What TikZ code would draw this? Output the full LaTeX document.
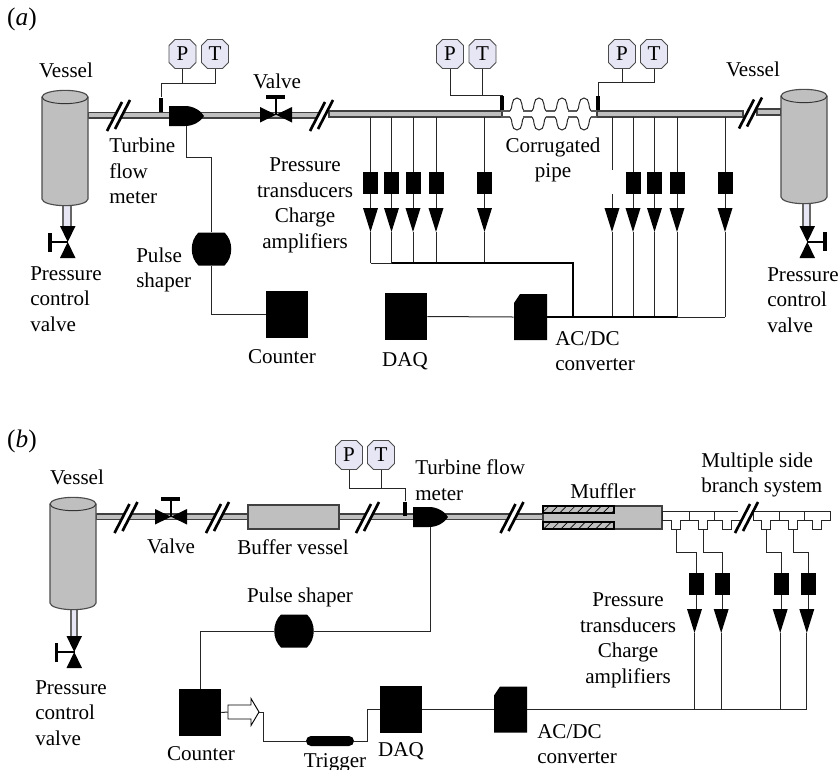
\documentclass[tikz,border=0pt]{standalone}
\usepackage{fontspec}
\setmainfont{Liberation Serif}
\usetikzlibrary{shapes.misc,patterns.meta}
\definecolor{pipegray}{HTML}{BFBFBF}
\definecolor{gaugefill}{HTML}{E6E6F5}
\tikzset{>=latex}
\tikzset{
  lbl/.style={inner sep=0,font=\fontsize{15.8}{19.2}\selectfont},
  panel/.style={inner sep=0,font=\fontsize{19}{22}\selectfont},
  wire/.style={line width=.75pt,black!85},
  bus/.style={line width=1.2pt,black},
  pipe/.style={draw=black!75,fill=pipegray,line width=.85pt},
  nipple/.style={draw=black!60,fill=gaugefill,line width=.85pt},
  sensor/.style={fill=black,inner sep=0,minimum width=2.4pt,minimum height=10.5pt},
  unitbox/.style={fill=black,inner sep=0,minimum width=31.5pt,minimum height=35.25pt},
  ampbox/.style={fill=black,inner sep=0,minimum width=11.25pt,minimum height=16.5pt},
  triggerbox/.style={rounded rectangle,fill=black,inner sep=0,minimum width=36pt,minimum height=7.5pt},
}
\tikzset{
  vessel/.pic={
    \draw[pipe,draw=black!70] (-23,0) -- (-23,#1)
      arc[start angle=180,end angle=360,x radius=17.25pt,y radius=5pt]
      -- (23,0) arc[start angle=0,end angle=180,x radius=17.25pt,y radius=5pt] -- cycle;
    \draw[line width=.7pt,black!80] (-23,0)
      arc[start angle=180,end angle=360,x radius=17.25pt,y radius=5pt];
  },
  valve/.pic={
    \fill (-16,-8) -- (16,7.5) -- (16,-8) -- (-16,7.5) -- cycle;
    \draw[line width=2.2pt] (0,0) -- (0,-18);
    \draw[line width=2.6pt] (-10,-18) -- (9,-18);
  },
  pipebreak/.pic={
    \fill[white] (-11.5,16) -- (3.5,-13) -- (11.5,-15) -- (-3.5,14) -- cycle;
    \draw[line width=2pt] (-11.5,16) -- (3.5,-13);
    \draw[line width=2pt] (-3.5,14) -- (11.5,-15);
  },
  gauge/.pic={
    \draw[draw=black!70,fill=gaugefill,line width=.7pt]
      (-7.5,-14.5) -- (7.5,-14.5) -- (13.5,-8.5) -- (13.5,8.5) -- (7.5,14.5)
      -- (-7.5,14.5) -- (-13.5,8.5) -- (-13.5,-8.5) -- cycle;
    \node[lbl,minimum width=20pt,minimum height=21.75pt] (-body) at (0,0) {#1};
  },
  turbine/.pic={
    \node[inner sep=0,minimum width=26pt,minimum height=15pt] (-body) at (17,0) {};
    \fill (0,-10) -- (16,-10) .. controls (25,-10) and (32,-5) .. (35,0)
      .. controls (32,5) and (25,10) .. (16,10) -- (0,10) -- cycle;
    \coordinate (-out) at (17,10);
  },
  shaper/.pic={
    \node[inner sep=0,minimum width=29pt,minimum height=24.75pt] (-body) at (0,0) {};
    \fill (-13,-16.5) -- (13,-16.5) .. controls (22,-8) and (22,8) .. (13,16.5)
      -- (-13,16.5) .. controls (-22,8) and (-22,-8) .. cycle;
  },
  adc/.pic={
    \node[inner sep=0,minimum width=24.75pt,minimum height=34.5pt] (-body) at (0,0) {};
    \fill (-16.5,-14) -- (-10.5,-23) -- (16.5,-23) -- (16.5,23) -- (-16.5,23) -- cycle;
  },
  hollowarrow/.pic={
    \node[inner sep=0,minimum width=23.25pt,minimum height=20pt] (-body) at (0,0) {};
    \draw[black,fill=white,line width=.7pt] (-15.5,-7) -- (7.5,-7) -- (7.5,-13.5)
      -- (15.5,0) -- (7.5,13.5) -- (7.5,7) -- (-15.5,7) -- cycle;
  },
  bellow/.pic={
    \draw[black!65,line width=1.1pt] (-16,-3) -- (-7,-3);
    \draw[black!65,line width=1.1pt] (-16,3) -- (-7,3);
    \draw[wire] (-7,-3) .. controls (-4,-5) and (-6.5,-16) .. (0,-16)
      .. controls (6.5,-16) and (4,-5) .. (7,-3);
    \draw[wire] (-7,3) .. controls (-4,5) and (-6.5,16) .. (0,16)
      .. controls (6.5,16) and (4,5) .. (7,3);
  },
  transducer/.pic={
    \node[ampbox] (-box) at (0,11) {};
    \draw[wire] (-box) -- (0,36);
    \fill (-7.5+#1,36) -- (7.5+#1,36) -- (#1,60) -- cycle;
    \coordinate (-tip) at (#1,60);
  },
  chargeamp/.pic={
    \draw[wire] (0,22) -- (0,36);
    \fill (-7.5,36) -- (7.5,36) -- (0,60) -- cycle;
    \coordinate (-tip) at (0,60);
  },
}
\begin{document}
\begin{tikzpicture}[x=.75pt,y=-.75pt]
  \useasboundingbox (0,0) rectangle (839,769);
  \clip (0,0) rectangle (839,769);
  % panel a
  \node[panel] (labela) at (22,19) {(\textit{a})};
  \draw[pipe] (88,112.5) rectangle (319,118);
  \draw[pipe] (329,111) rectangle (502,117);
  \draw[pipe] (597,111) rectangle (743,117);
  \draw[pipe] (757,109) rectangle (781,115);
  \draw[nipple] (63,203) rectangle (71,228);
  \draw[nipple] (803,203) rectangle (810,228);
  \pic at (65,97) {vessel=102};
  \pic at (804,96) {vessel=101};
  \pic[rotate=90] at (68,242) {valve};
  \pic[rotate=-90] at (807,242) {valve};
  \pic at (276,115) {valve};
  \pic at (118.5,115) {pipebreak};
  \pic at (321.5,115) {pipebreak};
  \pic at (750.5,112.5) {pipebreak};
  \pic (turba) at (169,116) {turbine};
  \pic at (517,114) {bellow};
  \pic at (539,114) {bellow};
  \pic at (562,114) {bellow};
  \pic at (584,114) {bellow};
  \draw[black!65,line width=1.1pt] (591,111) -- (597,111) (591,117) -- (597,117);

  \pic (pa) at (182.5,54) {gauge=P};
  \pic (ta) at (215,54) {gauge=T};
  \pic (pb) at (450,54) {gauge=P};
  \pic (tb) at (482.5,54) {gauge=T};
  \pic (pc) at (622,54) {gauge=P};
  \pic (tc) at (654,54) {gauge=T};
  \node[sensor] (sa) at (161,104.5) {};
  \node[sensor] (sb) at (502,103) {};
  \node[sensor] (sc) at (598,103) {};
  \coordinate (ja) at (161,83);
  \coordinate (jb) at (502,95);
  \coordinate (jc) at (598,82);
  \draw[wire] (sa.north) -- (ja) -| (ta-body.south);
  \draw[wire] (pa-body.south) -- (pa-body.south |- ja);
  \draw[wire] (sb.north) -- (jb) -| (pb-body.south);
  \draw[wire] (tb-body.south) -- (tb-body.south |- jb);
  \draw[wire] (sc.north) -- (jc) -| (tc-body.south);
  \draw[wire] (pc-body.south) -- (pc-body.south |- jc);

  \pic (la) at (370.5,172) {transducer=0};
  \pic (lb) at (391.5,172) {transducer=0};
  \pic (lc) at (413,172) {transducer=0};
  \pic (ld) at (436,172) {transducer=0};
  \pic (le) at (484.5,172) {transducer=0};
  \pic (ra) at (612,172) {chargeamp};
  \pic (rb) at (633,172) {transducer=0};
  \pic (rc) at (654.5,172) {transducer=0};
  \pic (rd) at (677,172) {transducer=0};
  \pic (re) at (725,172) {transducer=0};
  \coordinate (pipea) at (370,117);
  \coordinate (busa) at (573,263);
  \coordinate (busb) at (573,317);
  \coordinate (stub) at (612,170);
  \foreach \n in {la,lb,lc,ld,le,rb,rc,rd,re}
    \draw[wire] (\n-box.north) -- (\n-box.north |- pipea);
  \draw[wire] (stub) -- (stub |- pipea);
  \foreach \n in {la,lb,lc,ld,le}
    \draw[wire] (\n-tip) -- (\n-tip |- busa);
  \foreach \n in {ra,rb,rc,rd,re}
    \draw[wire] (\n-tip) -- (\n-tip |- busb);
  \draw[wire] (la-tip |- busa) -- (lb-tip |- busa);
  \draw[bus] (lb-tip |- busa) -- (busa) -- (busb);

  \pic (shapea) at (211.5,249) {shaper};
  \node[unitbox] (counta) at (287,314.5) {};
  \node[unitbox] (daqa) at (406,316.5) {};
  \pic (adca) at (530.5,317) {adc};
  \coordinate (ka) at (211.5,157);
  \draw[wire] (turba-out) |- (ka) -- (shapea-body.north);
  \draw[wire] (shapea-body.south) |- (counta.west);
  \draw[wire] (daqa.east) -- (adca-body.west);
  \draw[bus] (adca-body.east) -- (rd-tip |- busb);
  \draw[wire] (rd-tip |- busb) -- (re-tip |- busb);

  \node[lbl] (vesa) at (66,70) {Vessel};
  \node[lbl] (vesb) at (753,69) {Vessel};
  \node[lbl] (vala) at (277,81) {Valve};
  \node[lbl,align=left,anchor=west] (turbla) at (109,171) {Turbine\\flow\\meter};
  \node[lbl,align=center] (ptla) at (305,205.5) {Pressure\\transducers\\Charge\\amplifiers};
  \node[lbl,align=center] (corrl) at (553,160) {Corrugated\\pipe};
  \node[lbl,align=left,anchor=west] (pcla) at (30,299) {Pressure\\control\\valve};
  \node[lbl,align=left,anchor=west] (pclb) at (767,300) {Pressure\\control\\valve};
  \node[lbl,align=left,anchor=west] (shla) at (136,270) {Pulse\\shaper};
  \node[lbl] (countl) at (282,357) {Counter};
  \node[lbl] (daql) at (405,361) {DAQ};
  \node[lbl,align=left,anchor=west] (adcl) at (555,351) {AC/DC\\converter};

  % panel b
  \node[panel] (labelb) at (22,441) {(\textit{b})};
  \draw[pipe] (96,514) rectangle (543,519.5);
  \draw[nipple] (71,608) rectangle (77,637);
  \pic at (73,504) {vessel=99};
  \pic[rotate=90] at (74.5,652) {valve};
  \pic at (171,517) {valve};
  \pic at (126,517) {pipebreak};
  \pic at (217.5,517) {pipebreak};
  \pic at (367.5,517) {pipebreak};
  \pic at (512,517) {pipebreak};
  \draw[pipe] (248,505) rectangle (339,529);
  \pic (turbb) at (413,517) {turbine};
  \draw[pipe] (543,506) rectangle (662,529);
  \draw[pipe,draw=black] (543,506) rectangle (614,513);
  \draw[pipe,draw=black] (543,522) rectangle (614,529);
  \path[pattern={Lines[angle=45,distance=4.6pt,line width=.5pt]}] (543,506) rectangle (614,513);
  \path[pattern={Lines[angle=45,distance=4.6pt,line width=.5pt]}] (543,522) rectangle (614,529);
  \draw[wire] (662,511.3) -- (738,511.3) (753.3,511.3) -- (830.7,511.3)
    (662.3,511.3) |- (671.7,520) |- (680.7,529.3) |- (689.3,520) -- (689.3,511.3)
    (689.3,520) -- (698.3,520) |- (707.3,529.3) |- (714,520) -- (714,511.3)
    (714,520) -- (722.7,520) |- (731.7,529.3) |- (740,520)
    (753.3,511.3) |- (761.7,520) |- (770.7,529.3) |- (779.3,520) -- (779.3,511.3)
    (779.3,520) -- (788.3,520) |- (797.3,529.3) |- (804,520) -- (804,511.3)
    (804,520) -- (812.7,520) |- (821.7,529.3) |- (830.7,520) -- (830.7,511.3);
  \pic at (746.5,517) {pipebreak};

  \pic (pd) at (349,455) {gauge=P};
  \pic (td) at (381,455) {gauge=T};
  \node[sensor] (sd) at (405,508.5) {};
  \coordinate (jd) at (405,488);
  \draw[wire] (sd.north) -- (jd) -| (pd-body.south);
  \draw[wire] (td-body.south) -- (td-body.south |- jd);

  \pic (ba) at (696,573) {transducer=-1.5};
  \pic (bb) at (722.7,573) {transducer=-1.5};
  \pic (bc) at (781.7,573) {transducer=-1.5};
  \pic (bd) at (808.3,573) {transducer=-1.5};
  \coordinate (busc) at (807,709.5);
  \foreach \n in {ba,bb,bc,bd}
    \draw[wire] (\n-tip) -- (\n-tip |- busc);
  \coordinate (sa1) at (676,529.3);
  \coordinate (sa2) at (703,529.3);
  \coordinate (sa3) at (766,529.3);
  \coordinate (sa4) at (793,529.3);
  \draw[wire] (sa1) |- (676,552) -| (ba-box.north);
  \draw[wire] (sa2) |- (703,552) -| (bb-box.north);
  \draw[wire] (sa3) |- (766,552) -| (bc-box.north);
  \draw[wire] (sa4) |- (793,552) -| (bd-box.north);

  \pic (shapeb) at (294,631) {shaper};
  \node[unitbox] (countb) at (200,712.5) {};
  \node[unitbox] (daqb) at (401,709.5) {};
  \pic (adcb) at (510.5,709.5) {adc};
  \node[triggerbox] (trig) at (330,741) {};
  \pic (traro) at (243.5,712) {hollowarrow};
  \coordinate (ktop) at (263,712);
  \coordinate (kjoin) at (367,709.5);
  \draw[wire] (turbb-out) |- (shapeb-body.east);
  \draw[wire] (shapeb-body.west) -| (countb.north);
  \draw[wire] (countb.east) -- (traro-body.west);
  \draw[wire] (traro-body.east) -- (ktop) |- (trig.west);
  \draw[wire] (trig.east) -| (kjoin) -- (daqb.west);
  \draw[wire] (daqb.east) -- (adcb-body.west);
  \draw[wire] (adcb-body.east) -- (busc);

  \node[lbl] (vesd) at (77,477) {Vessel};
  \node[lbl] (valb) at (171,546) {Valve};
  \node[lbl] (bufl) at (293,547) {Buffer vessel};
  \node[lbl,align=left,anchor=west] (turblb) at (415,480) {Turbine flow\\meter};
  \node[lbl] (mufl) at (603,491) {Muffler};
  \node[lbl,align=left,anchor=west] (msbl) at (701,475) {Multiple side\\branch system};
  \node[lbl,align=center] (ptlb) at (628,640.5) {Pressure\\transducers\\Charge\\amplifiers};
  \node[lbl,align=left,anchor=west] (pclc) at (35,713) {Pressure\\control\\valve};
  \node[lbl] (shlb) at (300,597) {Pulse shaper};
  \node[lbl] (countm) at (201,754) {Counter};
  \node[lbl] (trigl) at (335,763) {Trigger};
  \node[lbl] (daqm) at (401,751) {DAQ};
  \node[lbl,align=left,anchor=west] (adcm) at (537,744) {AC/DC\\converter};
\end{tikzpicture}
\end{document}
